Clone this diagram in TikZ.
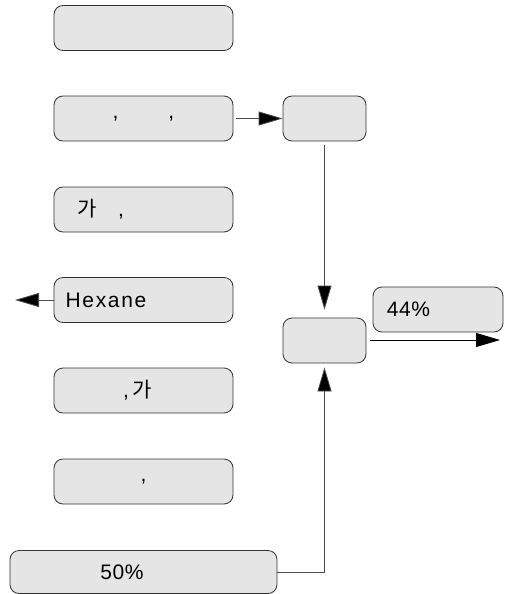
\documentclass[tikz,border=0pt]{standalone}
\usepackage{fontspec}
\setmainfont{Liberation Sans}[LetterSpace=3]
\newfontfamily\kofont{Noto Sans CJK KR}
\usetikzlibrary{arrows.meta}
\definecolor{boxfill}{HTML}{E5E5E5}
\tikzset{
  stepbox/.style={draw=black!80, fill=boxfill, rounded corners=9pt, line width=0.8pt,
    minimum height=45pt, inner sep=0pt, font=\fontsize{21}{23}\selectfont},
  wide/.style={stepbox, minimum width=179pt},
  small/.style={stepbox, minimum width=83pt},
  link/.style={draw=black!70, line width=0.8pt, -{Triangle[length=24pt,width=14pt,fill=black]}}
}
\begin{document}
\begin{tikzpicture}[x=1pt,y=-1pt]
\useasboundingbox (0,0) rectangle (504,594);
\node[wide] (box0) at (143.5,28){};
\node[wide] (box1) at (143.5,118.5){,\hspace{50pt},};
\node[small] (mixA) at (324.5,118.5){};
\node[wide] (box2) at (143.5,209.5){\kofont 가\hspace{21pt}\rmfamily ,\hspace*{85pt}};
\node[wide] (box3) at (143.5,300){{\addfontfeature{LetterSpace=8}Hexane}\hspace*{75pt}};
\node[stepbox, minimum width=130pt] (out44) at (438,309.5){44\%\hspace*{59pt}};
\node[small] (mixB) at (324.5,340.5){};
\node[wide] (box4) at (143.5,390.5){,\,{\kofont 가}\hspace*{12pt}};
\node[wide] (box5) at (143.5,481.5){,};
\node[stepbox, minimum width=267pt, minimum height=43pt] (in50) at (143.5,572){50\%\hspace*{43pt}};
\coordinate (hexout) at (15,300);
\coordinate (endout) at (500,340);
\coordinate (bend) at (mixB.south |- in50.east);
\draw[link, shorten <=3pt] (box1) -- (mixA);
\draw[link, shorten <=4pt, shorten >=8pt] (mixA) -- (mixB);
\draw[link] (box3) -- (hexout);
\draw[link, draw=black, shorten <=4pt] (mixB.east |- endout) -- (endout);
\draw[link, shorten >=4pt] (in50.east) -- (bend) -- (mixB.south);
\end{tikzpicture}
\end{document}
